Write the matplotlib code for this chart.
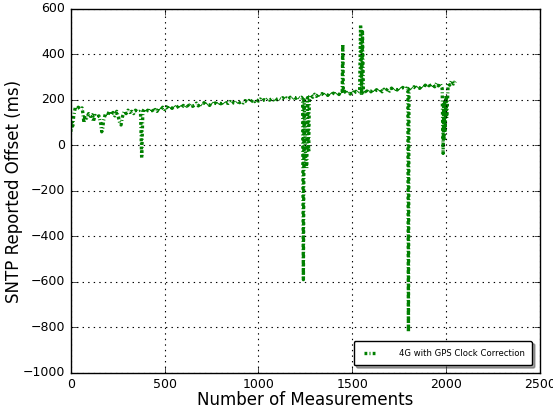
import matplotlib
matplotlib.use("Agg")
import matplotlib.pyplot as plt

plt.style.use('classic')

meas_idx = [0, 5, 10, 15, 20, 25, 30, 40, 50, 60, 65, 70, 75, 85, 95, 105, 115, 120,
            130, 140, 150, 160, 165, 170, 175, 185, 195, 205, 215, 225, 235, 245,
            255, 262, 268, 275, 285, 295, 305, 315, 325, 335, 345, 355, 365, 372,
            378, 384, 392, 400, 410, 420, 430, 440, 450, 460, 470, 480, 490, 500,
            510, 520, 530, 540, 550, 560, 570, 580, 590, 600, 610, 620, 630, 640,
            650, 660, 670, 680, 690, 700, 710, 720, 730, 740, 750, 760, 770, 780,
            790, 800, 810, 820, 830, 840, 850, 860, 870, 880, 890, 900, 910, 920,
            930, 940, 950, 960, 970, 980, 990, 1000, 1010, 1020, 1030, 1040, 1050,
            1060, 1070, 1080, 1090, 1100, 1110, 1120, 1130, 1140, 1150, 1160, 1170,
            1180, 1190, 1200, 1210, 1220, 1230, 1236, 1240, 1244, 1252, 1258, 1262,
            1268, 1272, 1280, 1290, 1300, 1310, 1320, 1330, 1340, 1350, 1360, 1370,
            1380, 1390, 1400, 1410, 1420, 1430, 1440, 1447, 1450, 1453, 1460, 1470,
            1480, 1490, 1500, 1510, 1520, 1530, 1540, 1545, 1550, 1555, 1560, 1570,
            1580, 1590, 1600, 1610, 1620, 1630, 1640, 1650, 1660, 1670, 1680, 1690,
            1700, 1710, 1720, 1730, 1740, 1750, 1760, 1770, 1780, 1790, 1797, 1800,
            1803, 1810, 1820, 1830, 1840, 1850, 1860, 1870, 1880, 1890, 1900, 1910,
            1920, 1930, 1940, 1950, 1960, 1970, 1980, 1985, 1988, 1990, 1993, 1996,
            2000, 2004, 2008, 2012, 2020, 2030, 2040, 2050]

offset_ms = [60, 110, 85, 125, 150, 170, 160, 168, 160, 165, 140, 100, 130, 120, 140, 128, 135, 105,
             132, 125, 130, 95, 60, 75, 110, 140, 130, 150, 135, 145, 130, 150,
             120, 95, 90, 125, 150, 140, 155, 145, 150, 140, 155, 148, 150, 140,
             -55, 150, 160, 145, 155, 150, 162, 148, 158, 150, 165, 155, 168, 158,
             170, 160, 172, 163, 175, 165, 170, 178, 166, 176, 168, 180, 170, 182,
             172, 178, 186, 174, 183, 177, 188, 178, 185, 176, 189, 181, 187, 179,
             190, 183, 191, 182, 188, 185, 193, 184, 190, 186, 195, 188, 193, 187,
             197, 191, 198, 190, 200, 193, 202, 195, 204, 196, 201, 198, 206,
             199, 205, 200, 208, 201, 207, 203, 210, 202, 209, 204, 212,
             205, 213, 207, 214, 208, 212, 205, -590, 200, -60, -100, 210,
             -30, 215, 222, 212, 225, 216, 226, 218, 228, 219, 229, 220,
             231, 222, 230, 223, 233, 224, 235, 228, 445, 230, 238, 228,
             236, 226, 240, 229, 238, 232, 240, 530, 220, 500, 235, 243,
             232, 244, 236, 246, 234, 245, 238, 248, 236, 247, 240, 250,
             239, 252, 242, 251, 244, 254, 246, 255, 248, 252, 240, -820,
             250, 256, 249, 258, 250, 260, 251, 262, 254, 265, 256, 270,
             255, 268, 258, 274, 262, 272, 250, -35, 180, 20, 200, 60,
             220, 120, 190, 275, 265, 285, 270, 282]

fig = plt.figure(figsize=(5.53, 4.08), dpi=100, facecolor='white')
ax = fig.add_axes([0.128, 0.086, 0.848, 0.892])

# classic style does not scale dashes with linewidth -> pattern in points
ax.plot(meas_idx, offset_ms, color='green', linewidth=2.4,
        linestyle=(0, (2.0, 1.6, 0.7, 1.6)),
        label='4G with GPS Clock Correction')

ax.set_xlim(0, 2500)
ax.set_ylim(-1000, 600)
ax.set_xticks([0, 500, 1000, 1500, 2000, 2500])
ax.set_yticks(range(-1000, 601, 200))
ax.tick_params(labelsize=9)
ax.grid(True, color='k', linestyle=':', linewidth=0.8)
ax.set_xlabel('Number of Measurements', fontsize=12, labelpad=0)
ax.set_ylabel('SNTP Reported Offset (ms)', fontsize=12)
ax.yaxis.set_label_coords(-0.102, 0.5)

leg = ax.legend(loc='lower right', fontsize=6.1, fancybox=True, shadow=True,
                handlelength=2.1, handletextpad=2.3, borderpad=0.9,
                borderaxespad=0.9)

fig.savefig('out.png', dpi=100, facecolor='white')
